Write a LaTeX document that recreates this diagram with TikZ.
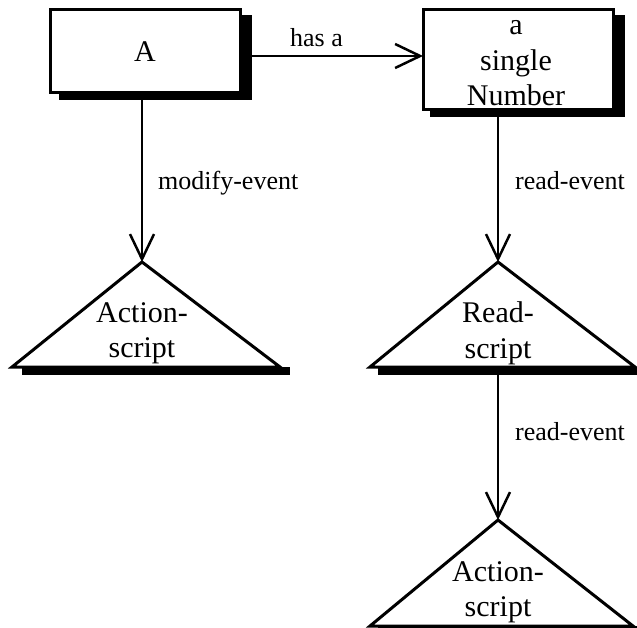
\documentclass[tikz,border=0pt]{standalone}
\usepackage{fontspec}
\setmainfont{Liberation Serif}
\usetikzlibrary{arrows.meta}
\tikzset{
  edgeline/.style={line width=2.5pt,-{Straight Barb[length=25pt,width=24pt,line width=2.5pt]}},
  frame/.style={line width=3pt,fill=white},
  shade/.style={fill=black},
  boxtext/.style={font=\fontsize{30}{35.5}\selectfont,align=center,inner sep=0pt},
  edgelabel/.style={font=\fontsize{26}{30}\selectfont,inner sep=0pt},
}
\begin{document}
\begin{tikzpicture}[x=1pt,y=-1pt]
  \useasboundingbox (0,0) rectangle (637,628);

  % box A with its drop shadow
  \fill[shade] (59,15) rectangle (252,100);
  \draw[frame] (50,10) rectangle (240,93);
  \node[boxtext] (A) at (145,52) {A};
  \coordinate (Aright) at (252,56);
  \coordinate (Abot) at (142,100);

  % box "a single Number" with its drop shadow
  \fill[shade] (430,15) rectangle (625,117);
  \draw[frame] (423,10) rectangle (613,110);
  \node[boxtext] (N) at (516,63.5) {a\\single\\Number};
  \coordinate (Nleft) at (423,56);
  \coordinate (Nbot) at (498,117);

  % left triangle: Action-script
  \fill[shade] (22,367) rectangle (290,375);
  \draw[frame,line join=miter] (142,262) -- (12,367) -- (280,367) -- cycle;
  \coordinate (T1top) at (142,262);
  \node[boxtext] (T1) at (142,333.5) {Action-\\script};

  % middle right triangle: Read-script
  \fill[shade] (378,367) rectangle (637,375);
  \draw[frame,line join=miter] (498,262) -- (370,367) -- (635,367) -- cycle;
  \coordinate (T2top) at (498,262);
  \coordinate (T2bot) at (498,375);
  \node[boxtext] (T2) at (498,333.5) {Read-\\script};

  % bottom triangle: Action-script
  \fill[shade] (378,626) rectangle (637,634);
  \draw[frame,line join=miter] (498,520) -- (370,626) -- (633,626) -- cycle;
  \coordinate (T3top) at (498,520);
  \node[boxtext] (T3) at (498,592.5) {Action-\\script};

  % connectors and their labels
  \draw[edgeline] (Aright) -- (Nleft);
  \node[edgelabel,anchor=base] (l1) at (316.5,46.5) {has a};
  \draw[edgeline] (Abot) -- (T1top);
  \node[edgelabel,anchor=base west] (l2) at (158,190) {modify-event};
  \draw[edgeline] (Nbot) -- (T2top);
  \node[edgelabel,anchor=base west] (l3) at (515,190) {read-event};
  \draw[edgeline] (T2bot) -- (T3top);
  \node[edgelabel,anchor=base west] (l4) at (515,440) {read-event};
\end{tikzpicture}
\end{document}
